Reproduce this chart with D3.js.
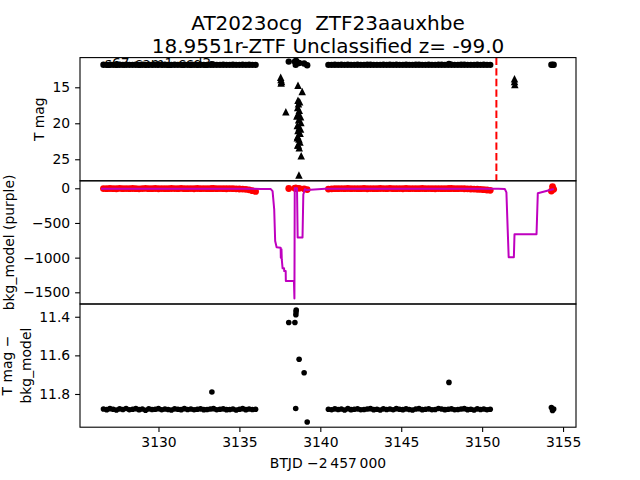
<!DOCTYPE html>
<html><head><meta charset="utf-8">
<script src="https://cdn.jsdelivr.net/npm/d3@7"></script>
<style>body{margin:0;background:#fff} svg text{font-family:"DejaVu Sans",sans-serif}</style>
</head><body><svg id="c" width="640" height="480"></svg>
<script>
// ---------------- data ----------------
const titleLines = ["AT2023ocg  ZTF23aauxhbe", "18.9551r-ZTF Unclassified z= -99.0"];
const panelNote = "s67-cam1-ccd3";
const xTicks = [3130, 3135, 3140, 3145, 3150, 3155];
const topTicks = [15, 20, 25];
const midTicks = [0, -500, -1000, -1500];
const botTicks = [11.4, 11.6, 11.8];
const xLabel = "BTJD \u22122\u2009457\u2009000";
const discoveryTime = 3150.88;

// TESS light-curve samples: time, T mag, bkg flux (red)
const tessTime = [
3126.6,3126.8,3127.0,3127.2,3127.4,3127.6,3127.8,3128.0,3128.2,3128.4,
3128.6,3128.8,3129.0,3129.2,3129.4,3129.6,3129.8,3130.0,3130.2,3130.4,
3130.6,3130.8,3131.0,3131.2,3131.4,3131.6,3131.8,3132.0,3132.2,3132.4,
3132.6,3132.8,3133.0,3133.2,3133.4,3133.6,3133.8,3134.0,3134.2,3134.4,
3134.6,3134.8,3135.0,3135.2,3135.4,3135.6,3135.8,3136.0,
3133.3,
3138.05,3138.43,3138.48,3138.49,3138.50,3138.51,3138.69,3139.0,3139.19,
3140.5,3140.7,3140.9,3141.1,3141.3,3141.5,3141.7,3141.9,3142.1,3142.3,
3142.5,3142.7,3142.9,3143.1,3143.3,3143.5,3143.7,3143.9,3144.1,3144.3,
3144.5,3144.7,3144.9,3145.1,3145.3,3145.5,3145.7,3145.9,3146.1,3146.3,
3146.5,3146.7,3146.9,3147.1,3147.3,3147.5,3147.7,3147.9,3148.1,3148.3,
3148.5,3148.7,3148.9,3149.1,3149.3,3149.5,3149.7,3149.9,3150.1,3150.3,
3150.5,
3147.95,
3154.28,3154.35,3154.42];
const tessMag = [
11.878,11.881,11.876,11.879,11.883,11.877,11.880,11.875,11.882,11.879,
11.876,11.881,11.878,11.884,11.877,11.880,11.879,11.876,11.882,11.878,
11.880,11.883,11.877,11.879,11.881,11.876,11.880,11.878,11.882,11.879,
11.877,11.881,11.880,11.878,11.876,11.882,11.879,11.877,11.881,11.880,
11.878,11.883,11.879,11.876,11.881,11.878,11.880,11.879,
11.79,
11.43,11.43,11.875,11.39,11.375,11.365,11.62,11.69,11.945,
11.879,11.882,11.877,11.880,11.878,11.883,11.876,11.881,11.879,11.877,
11.882,11.880,11.878,11.876,11.881,11.879,11.883,11.877,11.880,11.878,
11.882,11.876,11.879,11.881,11.877,11.880,11.883,11.878,11.876,11.881,
11.879,11.877,11.882,11.880,11.875,11.878,11.881,11.879,11.877,11.882,
11.880,11.878,11.876,11.881,11.879,11.883,11.877,11.880,11.878,11.882,
11.879,
11.74,
11.870,11.885,11.878];
const bkgFlux = [
-4,-6,-3,-5,-7,-2,-5,-4,-6,-3,
-5,-8,-4,-2,-6,-5,-3,-7,-4,-5,
-6,-3,-4,-5,-2,-6,-5,-4,-7,-3,
-5,-4,-6,-5,-3,-6,-4,-5,-7,-4,
-6,-8,-10,-12,-15,-22,-35,-45,
-4,
-3,2,-1,3,0,1,0,-8,-18,
-12,-8,-6,-5,-4,-6,-3,-5,-4,-6,
-5,-3,-7,-4,-5,-6,-3,-4,-5,-2,
-6,-5,-4,-7,-3,-5,-4,-6,-5,-3,
-6,-4,-5,-7,-4,-6,-5,-4,-3,-6,
-5,-4,-7,-8,-10,-12,-14,-16,-20,-25,
-30,
-5,
-40,25,-15];

// background model (purple line)
const bkgTime = [3126.45,3131.0,3135.0,3135.8,3136.3,3136.94,3137.05,3137.15,3137.21,3137.30,
3137.55,3137.56,3137.60,3137.62,3137.67,3137.76,3137.77,3137.86,3137.87,3138.37,
3138.40,3138.42,3138.56,3138.60,3138.90,3138.95,3139.05,3139.15,3139.4,3140.3,
3145.0,3151.0,3151.4,3151.5,3151.58,3151.64,3151.96,3152.0,3153.36,3153.44,3154.43];
const bkgModel = [-5,-5,-5,-8,-10,-12,-40,-300,-760,-850,
-857,-1000,-880,-1030,-1154,-1154,-1194,-1194,-1337,-1337,
-1588,0,0,-711,-711,-90,-10,-25,-20,-8,
-5,-5,-10,-60,-600,-995,-995,-663,-663,-72,-10];

// ZTF points (triangles)
const ztfTime = [3137.55,3137.57,3137.6,3137.58,3137.87,
3138.62,3138.88,3138.62,3138.65,3138.6,3138.7,3138.62,3138.78,3138.66,3138.8,
3138.58,3138.7,3138.62,3138.75,3138.6,3138.68,3138.74,3138.64,3138.7,3138.6,
3138.82,3138.68,3138.55,3138.72,3138.78,3138.58,
3152.0,3152.0,3152.02];
const ztfMag = [13.6,13.9,14.2,14.4,18.4,
14.7,15.6,16.8,17.3,17.8,18.2,18.7,19.1,19.5,19.9,
20.3,20.6,21.0,21.4,21.8,22.2,22.6,23.0,23.4,23.0,
24.5,27.2,19.0,17.0,20.8,22.0,
13.8,14.2,14.6];

// ---------------- layout ----------------
const L = 80, R = 576, T = 57.6, B = 427.2, ph = (B - T) / 3;
const P = [T, T + ph, T + 2 * ph];
const svg = d3.select("#c");
svg.append("rect").attr("width", 640).attr("height", 480).attr("fill", "#fff");

const x = d3.scaleLinear().domain([3125.15, 3155.8]).range([L, R]);
const yTop = d3.scaleLinear().domain([10.875, 27.99]).range([P[0], P[0] + ph]);
const yMid = d3.scaleLinear().domain([108, -1668.6]).range([P[1], P[1] + ph]);
const yBot = d3.scaleLinear().domain([11.334, 11.972]).range([P[2], P[2] + ph]);

const defs = svg.append("defs");
P.forEach((p, i) => {
  defs.append("clipPath").attr("id", "clip" + i)
    .append("rect").attr("x", L).attr("y", p).attr("width", R - L).attr("height", ph);
});

const FS = 13.9;
function styleAxis(g) {
  g.select(".domain").remove();
  g.selectAll("text").attr("font-size", FS).attr("font-family", "DejaVu Sans").attr("fill", "#000");
  g.selectAll("line").attr("stroke", "#000").attr("stroke-width", 1.1);
}
[[yTop, topTicks, d => String(d)], [yMid, midTicks, d => d3.format("d")(d)], [yBot, botTicks, d => d3.format(".1f")(d)]]
  .forEach(([s, tv, f]) => {
    svg.append("g").attr("transform", `translate(${L},0)`)
      .call(d3.axisLeft(s).tickValues(tv).tickSize(4.9).tickPadding(4.9).tickFormat(f))
      .call(styleAxis);
  });
svg.append("g").attr("transform", `translate(0,${B})`)
  .call(d3.axisBottom(x).tickValues(xTicks).tickSize(4.9).tickPadding(4.9).tickFormat(d3.format("d")))
  .call(styleAxis);

// ---------------- top panel ----------------
const gTop = svg.append("g").attr("clip-path", "url(#clip0)");
gTop.selectAll("circle").data(tessTime).join("circle")
  .attr("cx", d => x(d)).attr("cy", (d, i) => yTop(tessMag[i])).attr("r", 3.2).attr("fill", "#000");
const tri = { draw(ctx, size) { const h = Math.sqrt(size); ctx.moveTo(0, -h / 2); ctx.lineTo(h / 2, h / 2); ctx.lineTo(-h / 2, h / 2); ctx.closePath(); } };
gTop.selectAll("path.z").data(ztfTime).join("path").attr("class", "z")
  .attr("d", d3.symbol().type(tri).size(7.5 * 7.5))
  .attr("transform", (d, i) => `translate(${x(d)},${yTop(ztfMag[i])})`)
  .attr("fill", "#000");
gTop.append("line").attr("x1", x(discoveryTime)).attr("x2", x(discoveryTime))
  .attr("y1", P[0]).attr("y2", P[0] + ph)
  .attr("stroke", "#ff0000").attr("stroke-width", 2).attr("stroke-dasharray", "7.4,3.2");
svg.append("text").attr("x", L + 0.05 * (R - L)).attr("y", 68)
  .attr("font-size", FS).attr("fill", "#000").text(panelNote);

// ---------------- middle panel ----------------
const gMid = svg.append("g").attr("clip-path", "url(#clip1)");
gMid.selectAll("circle").data(tessTime).join("circle")
  .attr("cx", d => x(d)).attr("cy", (d, i) => yMid(bkgFlux[i])).attr("r", 3.4).attr("fill", "#ff0000");
gMid.append("path").datum(bkgTime.map((t, i) => [t, bkgModel[i]]))
  .attr("d", d3.line().x(d => x(d[0])).y(d => yMid(d[1])))
  .attr("fill", "none").attr("stroke", "#bf00bf").attr("stroke-width", 2).attr("stroke-linejoin", "round");

// ---------------- bottom panel ----------------
const gBot = svg.append("g").attr("clip-path", "url(#clip2)");
gBot.selectAll("circle").data(tessTime).join("circle")
  .attr("cx", d => x(d)).attr("cy", (d, i) => yBot(tessMag[i])).attr("r", 2.8).attr("fill", "#000");

// ---------------- frames ----------------
P.forEach(p => {
  svg.append("rect").attr("x", L).attr("y", p).attr("width", R - L).attr("height", ph)
    .attr("fill", "none").attr("stroke", "#000").attr("stroke-width", 1.1);
});

// ---------------- labels ----------------
titleLines.forEach((t, i) => {
  svg.append("text").attr("x", (L + R) / 2).attr("y", 30 + i * 23)
    .attr("text-anchor", "middle").attr("font-size", 20).style("white-space", "pre").text(t);
});
svg.append("text").attr("x", (L + R) / 2).attr("y", 468).attr("text-anchor", "middle")
  .attr("font-size", FS).text(xLabel);
function yLabel(lines, cx, cy) {
  const g = svg.append("g").attr("transform", `translate(${cx},${cy}) rotate(-90)`);
  lines.forEach(([t, off]) => g.append("text").attr("x", 0).attr("y", off)
    .attr("text-anchor", "middle").attr("font-size", FS).text(t));
}
yLabel([["T mag", 0]], 43.5, P[0] + ph / 2);
yLabel([["bkg_model (purple)", 0]], 13.5, P[1] + ph / 2);
yLabel([["T mag \u2212", 0], ["bkg_model", 19]], 11.5, P[2] + ph / 2);
</script></body></html>
